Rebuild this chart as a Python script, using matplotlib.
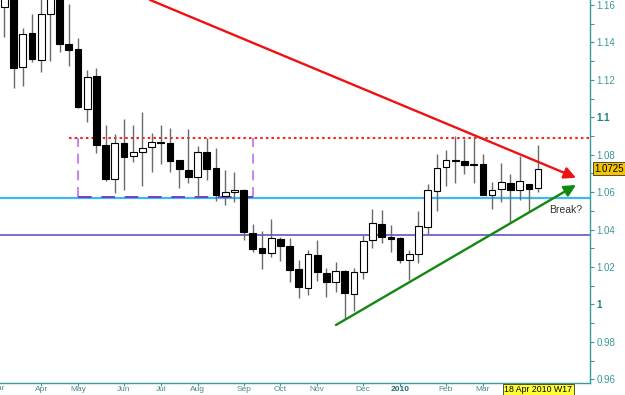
import matplotlib
matplotlib.use('Agg')
import matplotlib.pyplot as plt
import matplotlib.transforms as mtransforms
import numpy as np

plt.rcParams['font.family'] = ['Liberation Sans', 'DejaVu Sans']

# ---- weekly OHLC data (week index 0 = week of 8 Mar 2009, 58 = 18 Apr 2010) ----
opens = [1.1591, 1.1750, 1.1270, 1.1452, 1.1306, 1.1550, 1.1700, 1.1393, 1.1363, 1.1043,
         1.1221, 1.0852, 1.0670, 1.0861, 1.0795, 1.0812, 1.0839, 1.0866, 1.0864, 1.0772,
         1.0718, 1.0683, 1.0813, 1.0727, 1.0581, 1.0602, 1.0612, 1.0380, 1.0300, 1.0277,
         1.0350, 1.0314, 1.0187, 1.0086, 1.0264, 1.0170, 1.0122, 1.0180, 1.0054, 1.0172,
         1.0344, 1.0428, 1.0359, 1.0354, 1.0237, 1.0268, 1.0416, 1.0608, 1.0736, 1.0772,
         1.0768, 1.0748, 1.0749, 1.0585, 1.0615, 1.0647, 1.0612, 1.0642, 1.0622]
highs = [1.1700, 1.1800, 1.1479, 1.1550, 1.1640, 1.1750, 1.1780, 1.1604, 1.1425, 1.1253,
         1.1262, 1.0959, 1.0909, 1.0989, 1.0959, 1.1027, 1.0916, 1.0959, 1.0943, 1.0772,
         1.0939, 1.0848, 1.0889, 1.0838, 1.0718, 1.0709, 1.0615, 1.0429, 1.0394, 1.0457,
         1.0362, 1.0354, 1.0237, 1.0291, 1.0342, 1.0193, 1.0225, 1.0182, 1.0196, 1.0371,
         1.0508, 1.0505, 1.0425, 1.0362, 1.0291, 1.0501, 1.0644, 1.0802, 1.0825, 1.0902,
         1.0886, 1.0895, 1.0806, 1.0652, 1.0756, 1.0698, 1.0793, 1.0642, 1.0850]
lows = [1.1431, 1.1158, 1.1169, 1.1294, 1.1244, 1.1301, 1.1350, 1.1276, 1.1050, 1.0977,
        1.0808, 1.0660, 1.0594, 1.0612, 1.0763, 1.0633, 1.0708, 1.0752, 1.0705, 1.0622,
        1.0651, 1.0569, 1.0665, 1.0554, 1.0531, 1.0545, 1.0342, 1.0278, 1.0189, 1.0255,
        1.0234, 1.0122, 1.0036, 1.0052, 1.0127, 1.0038, 1.0068, 0.9921, 0.9965, 1.0136,
        1.0300, 1.0327, 1.0282, 1.0223, 1.0131, 1.0223, 1.0374, 1.0499, 1.0633, 1.0647,
        1.0699, 1.0651, 1.0582, 1.0508, 1.0549, 1.0437, 1.0558, 1.0494, 1.0602]
closes = [1.1660, 1.1265, 1.1443, 1.1311, 1.1550, 1.1680, 1.1390, 1.1360, 1.1053, 1.1214,
          1.0852, 1.0670, 1.0861, 1.0789, 1.0816, 1.0838, 1.0866, 1.0863, 1.0768, 1.0722,
          1.0683, 1.0813, 1.0722, 1.0585, 1.0599, 1.0612, 1.0387, 1.0296, 1.0277, 1.0354,
          1.0314, 1.0184, 1.0091, 1.0269, 1.0173, 1.0122, 1.0179, 1.0060, 1.0175, 1.0341,
          1.0434, 1.0359, 1.0351, 1.0237, 1.0270, 1.0419, 1.0612, 1.0731, 1.0772, 1.0768,
          1.0745, 1.0745, 1.0585, 1.0614, 1.0652, 1.0613, 1.0657, 1.0615, 1.0725]

# month ticks (week index) and labels
month_ticks = [4, 8, 13, 17, 21, 26, 30, 34, 39, 43, 48, 52, 56, 60]
month_labels = ['Apr', 'May', 'Jun', 'Jul', 'Aug', 'Sep', 'Oct', 'Nov', 'Dec', '2010',
                'Feb', 'Mar', '', '']
first_month_tick, first_month_label = -1, 'Mar'

# levels & annotations
resistance_dotted = 1.0889
box_weeks = (8, 27)
box_levels = (1.0573, 1.0889)
cyan_level = 1.0567
slate_level = 1.0371
red_trend = ((15.83, 1.1627), (62.13, 1.0677))
green_trend = ((36.04, 0.9890), (62.13, 1.0638))
last_price = 1.0725
date_label = '18 Apr 2010 W17'
break_text = 'Break?'
break_pos = (61.0, 1.0505)

teal = '#3a9a9a'

fig = plt.figure(figsize=(6.25, 3.95), dpi=100)
ax_bottom_px = 383
ax = fig.add_axes([0, 1 - ax_bottom_px / 395, 590 / 625, ax_bottom_px / 395])
ax.set_facecolor('white')
ax.set_xlim(-0.478, 63.65)
ax.set_ylim(0.9580, 1.16267)

# horizontal levels
ax.axhline(cyan_level, color='#3fb8ec', lw=1.6, zorder=1)
ax.axhline(slate_level, color='#6d62c8', lw=1.3, zorder=1)

# purple dashed box
bx0, bx1 = box_weeks
by0, by1 = box_levels
ax.plot([bx0, bx0], [by0, by1], color='#c070f0', lw=1.2, ls=(0, (6, 4)), zorder=1)
ax.plot([bx1, bx1], [by0, by1], color='#c070f0', lw=1.2, ls=(0, (6, 4)), zorder=1)
ax.plot([bx0, bx1], [by0, by0], color='#7040d0', lw=1.4, ls=(0, (7, 5)), zorder=1)
ax.hlines(resistance_dotted, 7, 63.65, color='#ff2020', lw=1.5, ls=(0, (1.2, 1.5)), zorder=2)

# candles
x = np.arange(len(opens))
for i in x:
    o, h, l, c = opens[i], highs[i], lows[i], closes[i]
    ax.vlines(i, l, h, color='#6a6a6a', lw=1.0, zorder=3)
    lo, hi = min(o, c), max(o, c)
    hgt = max(hi - lo, 0.0002)
    face = 'white' if c > o else 'black'
    ax.bar(i, hgt, bottom=lo, width=0.72, color=face, edgecolor='black', lw=0.8, zorder=4)

# trend lines with arrows
ax.annotate('', xy=red_trend[1], xytext=red_trend[0],
            arrowprops=dict(arrowstyle='-|>,head_length=0.7,head_width=0.35', color='#ee1111',
                            lw=1.7, shrinkA=0, shrinkB=0), zorder=5)
ax.annotate('', xy=green_trend[1], xytext=green_trend[0],
            arrowprops=dict(arrowstyle='-|>,head_length=0.7,head_width=0.35', color='#118811',
                            lw=1.7, shrinkA=0, shrinkB=0), zorder=5)

ax.text(break_pos[0], break_pos[1], break_text, fontsize=7.5, color='#333333',
        ha='center', va='center', zorder=6)

# spines
for s in ['left', 'top']:
    ax.spines[s].set_visible(False)
for s in ['right', 'bottom']:
    ax.spines[s].set_color(teal)
    ax.spines[s].set_linewidth(1.0)

# y axis on right
ax.yaxis.tick_right()
yt = np.round(np.arange(0.96, 1.161, 0.02), 2)
ax.set_yticks(yt)
ylabels = [('%.2f' % v).rstrip('0').rstrip('.') for v in yt]
ax.set_yticklabels(ylabels)
ax.set_yticks(np.round(np.arange(0.96, 1.161, 0.01), 2), minor=True)
ax.tick_params(axis='y', which='both', direction='out', length=3, width=0.8,
               color=teal, labelcolor=teal, labelsize=7, pad=1.5)
for t in ax.get_yticklabels():
    if t.get_text() in ('1', '1.1'):
        t.set_fontweight('bold')
        t.set_color('#1f7f7f')

ax.set_xticks(month_ticks)
ax.set_xticklabels(month_labels)
ax.tick_params(axis='x', direction='out', length=2, width=0.8, color=teal,
               labelcolor='#4a8a8a', labelsize=6, pad=0.2)
for t in ax.get_xticklabels():
    if t.get_text() == '2010':
        t.set_fontweight('bold')
        t.set_color('#1f6f6f')

trans = mtransforms.blended_transform_factory(ax.transData, ax.transAxes)
ax.text(first_month_tick + 0.3, -0.006, first_month_label, transform=trans, fontsize=6,
        color='#4a8a8a', ha='center', va='top', clip_on=False)

# last price label
transy = mtransforms.blended_transform_factory(ax.transAxes, ax.transData)
ax.text(1.008, last_price, '%.4f' % last_price, transform=transy, fontsize=7, color='black',
        ha='left', va='center', clip_on=False, zorder=10,
        bbox=dict(boxstyle='square,pad=0.15', fc='#f5c400', ec='#333333', lw=0.6))

# date label
fig.text(538.5 / 625, 1 - 389.5 / 395, date_label, fontsize=6.3, color='black',
         ha='center', va='center', zorder=10,
         bbox=dict(boxstyle='square,pad=0.12', fc='#ffff33', ec='#333333', lw=0.6))

fig.savefig('out.png', dpi=100, facecolor='white')
